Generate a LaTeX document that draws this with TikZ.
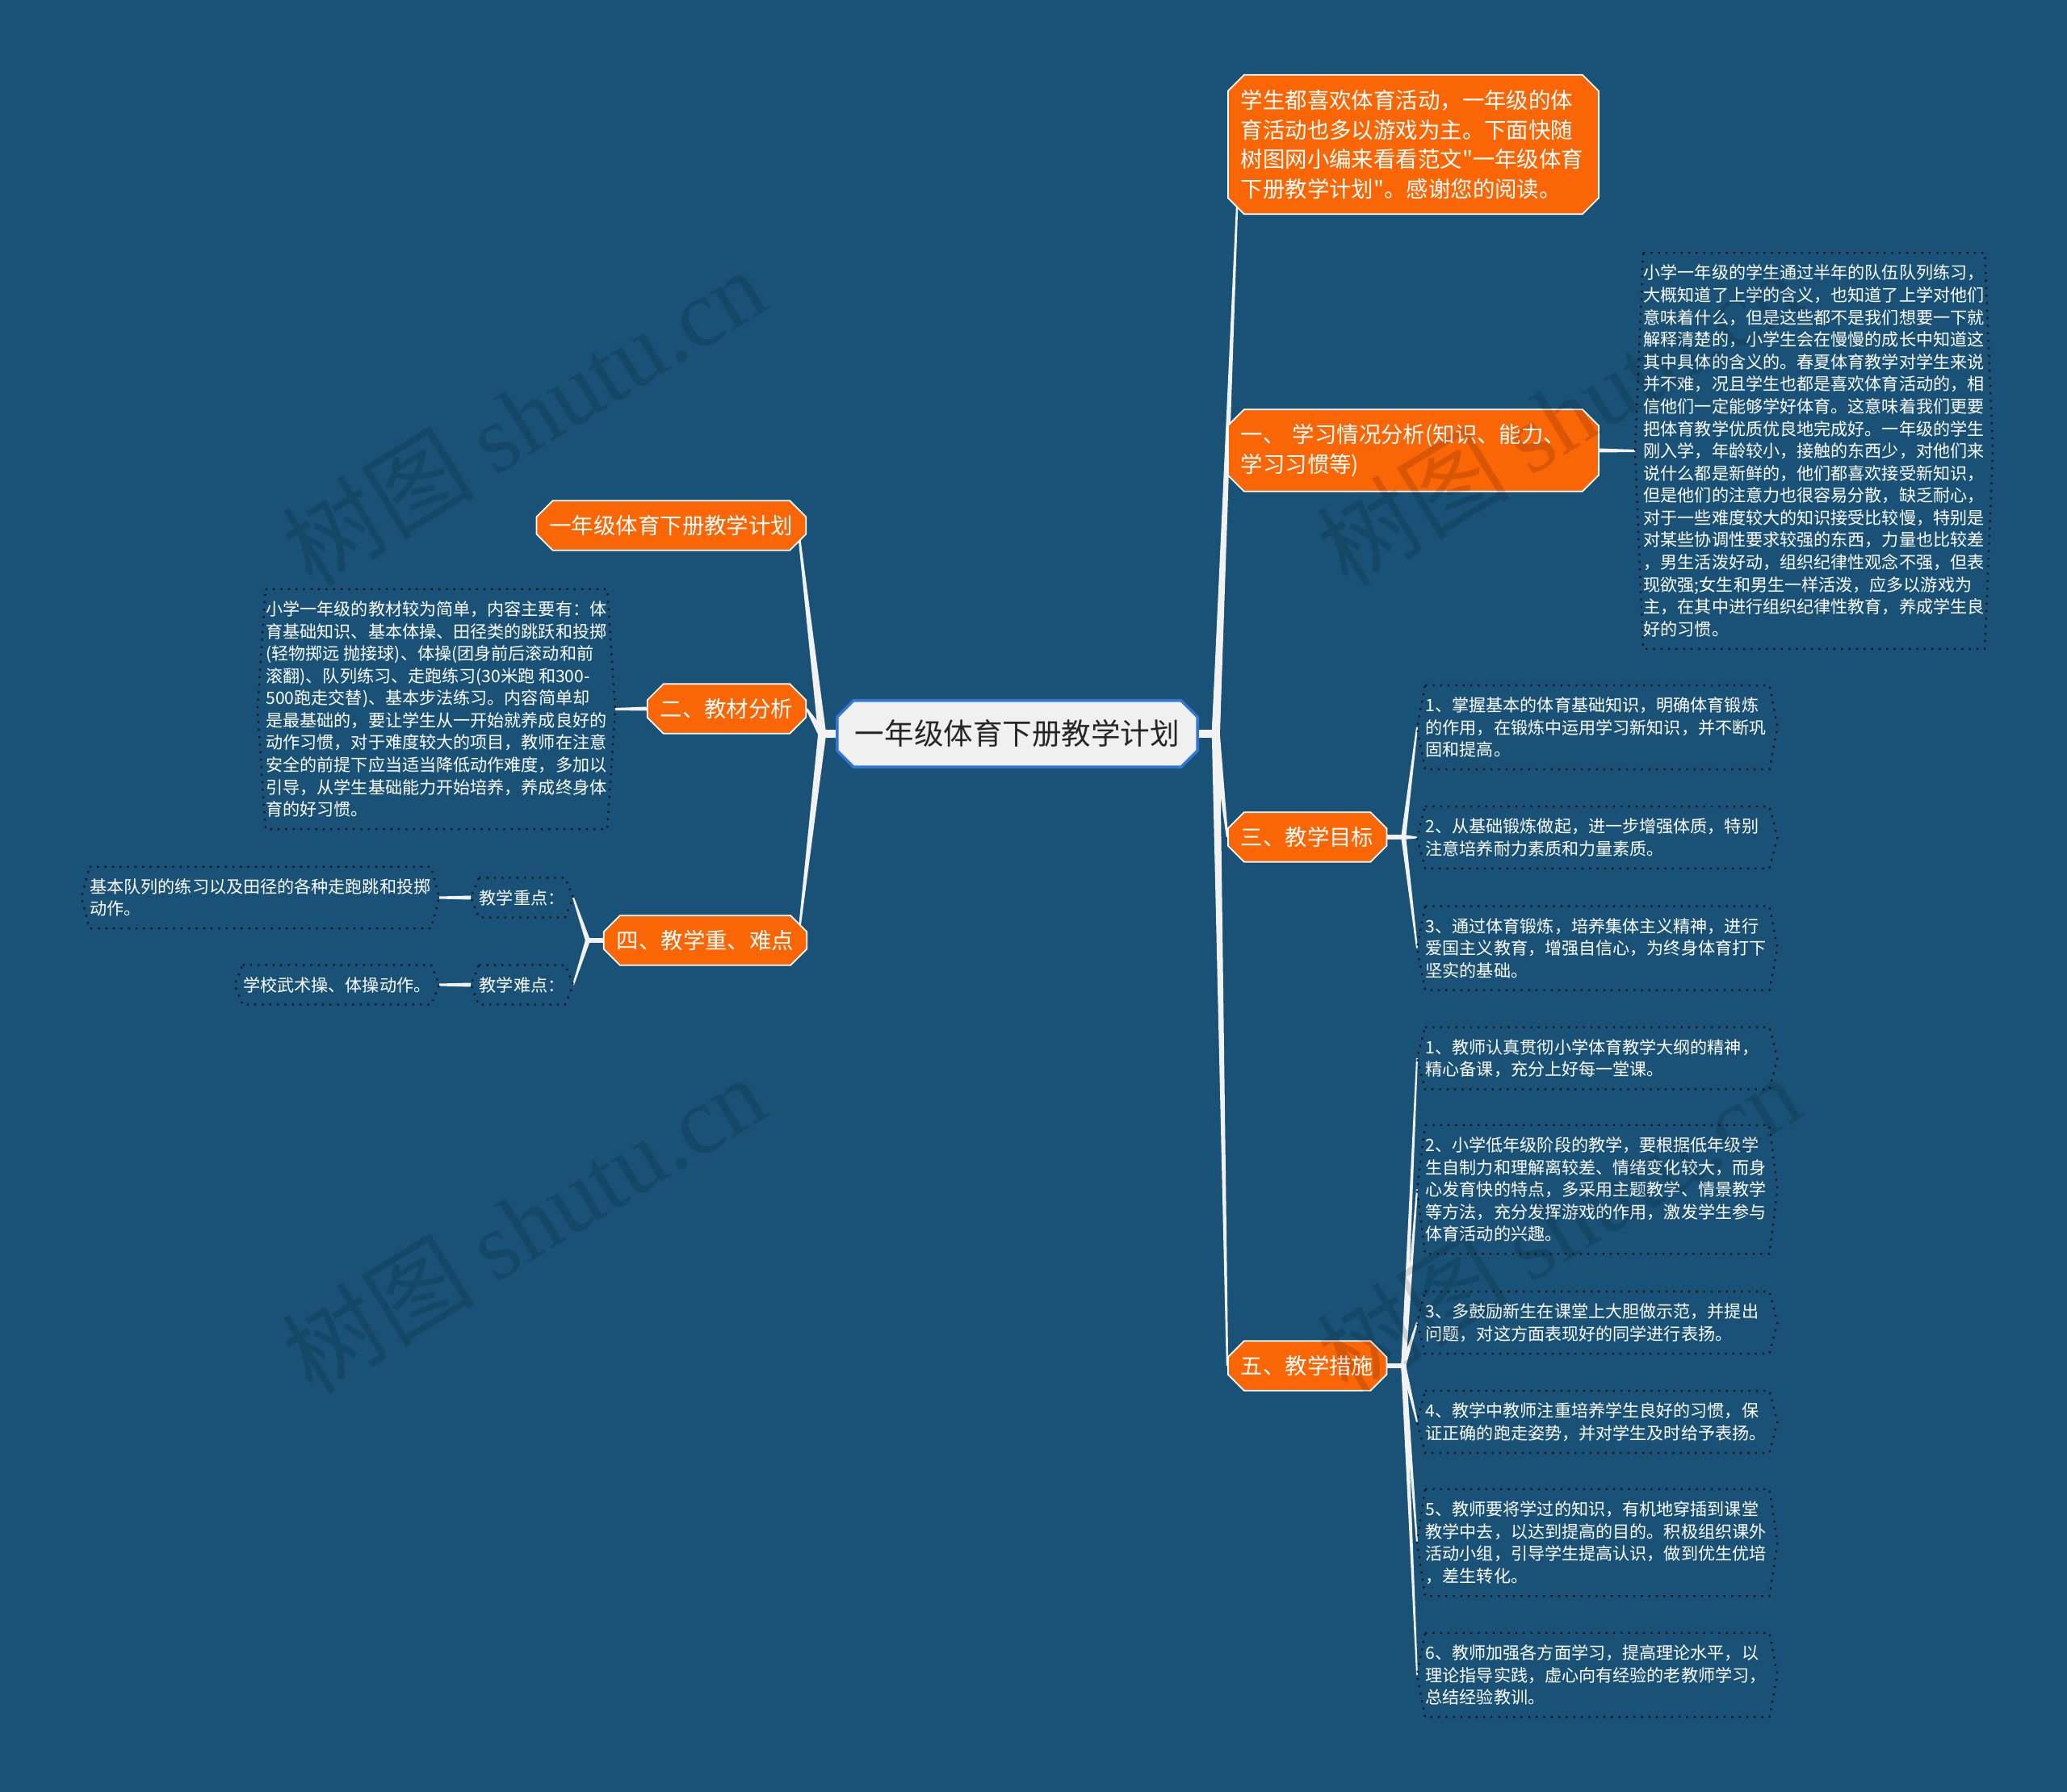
\documentclass[tikz,border=0pt]{standalone}
\usepackage{fontspec}
\newfontfamily\cjk{Noto Sans CJK SC}
\newfontfamily\wmserif{Liberation Serif}
\usetikzlibrary{calc,shapes.misc}
\definecolor{bgblue}{RGB}{25,82,118}
\definecolor{branchorange}{RGB}{250,101,5}
\definecolor{rootgrey}{RGB}{240,240,240}
\definecolor{rootblue}{RGB}{50,120,210}
\definecolor{leafline}{RGB}{10,20,30}
\definecolor{linkwhite}{RGB}{242,242,242}
\pgfdeclarelayer{paper}
\pgfdeclarelayer{links}
\pgfsetlayers{paper,links,main}
% tapered connector: from, to, start half width, end half width
\newcommand{\twig}[4]{%
  \fill[linkwhite] ($(#1)!#3!90:(#2)$) -- ($(#2)!#4!-90:(#1)$)
    -- ($(#2)!#4!90:(#1)$) -- ($(#1)!#3!-90:(#2)$) -- cycle;}

\begin{document}
\begin{tikzpicture}[
    rootbox/.style={chamfered rectangle, chamfered rectangle xsep=0.1cm,
      chamfered rectangle ysep=0.1cm, fill=rootgrey, draw=rootblue,
      line width=1pt, text=black!85, inner xsep=0.12cm, inner ysep=0.14cm,
      font=\cjk\fontsize{10.4pt}{12pt}\selectfont},
    branch/.style={chamfered rectangle, chamfered rectangle xsep=0.1cm,
      chamfered rectangle ysep=0.1cm, fill=branchorange, draw=white,
      line width=0.5pt, text=white, inner xsep=0.06cm, inner ysep=0.08cm,
      align=left, font=\cjk\fontsize{7.8pt}{10.5pt}\selectfont},
    leaf/.style={inner xsep=0.1cm, inner ysep=0.14cm, text=white, align=left,
      font=\cjk\fontsize{6pt}{7.85pt}\selectfont},
    wideleaf/.style={leaf, text width=4.25cm},
    leafedge/.style={draw=leafline, dotted, line width=0.65pt},
    watermark/.style={rotate=31.5, text=black, opacity=0.13,
      font=\cjk\fontsize{34pt}{36pt}\selectfont}
  ]
  \begin{pgfonlayer}{paper}
    \fill[bgblue] (0,0) rectangle (25.6,-22.2);
  \end{pgfonlayer}
  \useasboundingbox (0,0) rectangle (25.6,-22.2);

  % centre
  \node[rootbox] (root) at (12.60,-9.09) {一年级体育下册教学计划};

  % right side
  \node[branch, text width=4.27cm, anchor=west] (intro) at (15.20,-1.79)
    {学生都喜欢体育活动，一年级的体\\育活动也多以游戏为主。下面快随\\树图网小编来看看范文"一年级体育\\下册教学计划"。感谢您的阅读。};
  \node[branch, text width=4.27cm, anchor=west] (sec1) at (15.20,-5.58)
    {一、 学习情况分析(知识、能力、\\学习习惯等)};
  \node[leaf, anchor=west] (sec1d) at (20.25,-5.585)
    {小学一年级的学生通过半年的队伍队列练习，\\大概知道了上学的含义，也知道了上学对他们\\意味着什么，但是这些都不是我们想要一下就\\解释清楚的，小学生会在慢慢的成长中知道这\\其中具体的含义的。春夏体育教学对学生来说\\并不难，况且学生也都是喜欢体育活动的，相\\信他们一定能够学好体育。这意味着我们更要\\把体育教学优质优良地完成好。一年级的学生\\刚入学，年龄较小，接触的东西少，对他们来\\说什么都是新鲜的，他们都喜欢接受新知识，\\但是他们的注意力也很容易分散，缺乏耐心，\\对于一些难度较大的知识接受比较慢，特别是\\对某些协调性要求较强的东西，力量也比较差\\，男生活泼好动，组织纪律性观念不强，但表\\现欲强;女生和男生一样活泼，应多以游戏为\\主，在其中进行组织纪律性教育，养成学生良\\好的习惯。};
  \node[branch, anchor=west] (sec3) at (15.20,-10.37) {三、教学目标};
  \node[wideleaf, anchor=west] (goal1) at (17.55,-9.01)
    {1、掌握基本的体育基础知识，明确体育锻炼\\的作用，在锻炼中运用学习新知识，并不断巩\\固和提高。};
  \node[wideleaf, anchor=west] (goal2) at (17.55,-10.375)
    {2、从基础锻炼做起，进一步增强体质，特别\\注意培养耐力素质和力量素质。};
  \node[wideleaf, anchor=west] (goal3) at (17.55,-11.745)
    {3、通过体育锻炼，培养集体主义精神，进行\\爱国主义教育，增强自信心，为终身体育打下\\坚实的基础。};
  \node[branch, anchor=west] (sec5) at (15.20,-16.92) {五、教学措施};
  \node[wideleaf, anchor=west] (step1) at (17.55,-13.11)
    {1、教师认真贯彻小学体育教学大纲的精神，\\精心备课，充分上好每一堂课。};
  \node[wideleaf, anchor=west] (step2) at (17.55,-14.735)
    {2、小学低年级阶段的教学，要根据低年级学\\生自制力和理解离较差、情绪变化较大，而身\\心发育快的特点，多采用主题教学、情景教学\\等方法，充分发挥游戏的作用，激发学生参与\\体育活动的兴趣。};
  \node[wideleaf, anchor=west] (step3) at (17.55,-16.385)
    {3、多鼓励新生在课堂上大胆做示范，并提出\\问题，对这方面表现好的同学进行表扬。};
  \node[wideleaf, anchor=west] (step4) at (17.55,-17.615)
    {4、教学中教师注重培养学生良好的习惯，保\\证正确的跑走姿势，并对学生及时给予表扬。};
  \node[wideleaf, anchor=west] (step5) at (17.55,-19.11)
    {5、教师要将学过的知识，有机地穿插到课堂\\教学中去，以达到提高的目的。积极组织课外\\活动小组，引导学生提高认识，做到优生优培\\，差生转化。};
  \node[wideleaf, anchor=west] (step6) at (17.55,-20.75)
    {6、教师加强各方面学习，提高理论水平，以\\理论指导实践，虚心向有经验的老教师学习，\\总结经验教训。};

  % left side
  \node[branch, anchor=east] (title) at (9.99,-6.51) {一年级体育下册教学计划};
  \node[branch, anchor=east] (sec2) at (9.99,-8.78) {二、教材分析};
  \node[leaf, anchor=east] (sec2d) at (7.62,-8.785)
    {小学一年级的教材较为简单，内容主要有：体\\育基础知识、基本体操、田径类的跳跃和投掷\\(轻物掷远 抛接球)、体操(团身前后滚动和前\\滚翻)、队列练习、走跑练习(30米跑 和300-\\500跑走交替)、基本步法练习。内容简单却\\是最基础的，要让学生从一开始就养成良好的\\动作习惯，对于难度较大的项目，教师在注意\\安全的前提下应当适当降低动作难度，多加以\\引导，从学生基础能力开始培养，养成终身体\\育的好习惯。};
  \node[branch, anchor=east] (sec4) at (10.00,-11.65) {四、教学重、难点};
  \node[leaf, anchor=east] (key) at (7.10,-11.12) {教学重点：};
  \node[leaf, anchor=east] (hard) at (7.10,-12.20) {教学难点：};
  \node[leaf, anchor=east] (keyd) at (5.44,-11.12)
    {基本队列的练习以及田径的各种走跑跳和投掷\\动作。};
  \node[leaf, anchor=east] (hardd) at (5.44,-12.20) {学校武术操、体操动作。};

  % dotted outlines with pointed sides
  \foreach \n in {sec1d,sec2d,key,hard,keyd,hardd,goal1,goal2,goal3,step1,step2,step3,step4,step5,step6}
    \draw[leafedge] ([xshift=0.1cm]\n.north west) -- ([xshift=-0.1cm]\n.north east)
      -- (\n.east) -- ([xshift=-0.1cm]\n.south east)
      -- ([xshift=0.1cm]\n.south west) -- (\n.west) -- cycle;

  % hubs
  \coordinate (rhub) at ($(root.east)+(0.21,0)$);
  \coordinate (lhub) at ($(root.west)+(-0.17,0)$);
  \coordinate (s3hub) at ($(sec3.east)+(0.2,0)$);
  \coordinate (s5hub) at ($(sec5.east)+(0.2,0)$);
  \coordinate (s4hub) at ($(sec4.west)+(-0.19,0)$);
  \coordinate (introin) at ($(intro.south west)+(0.02,0.05)$);
  \coordinate (titlein) at ($(title.south east)+(0,0.16)$);
  \coordinate (sec4in) at ($(sec4.north east)+(0,-0.1)$);

  \begin{pgfonlayer}{links}
    \twig{root.east}{rhub}{0.05cm}{0.05cm}
    \twig{root.west}{lhub}{0.05cm}{0.05cm}
    \foreach \t in {introin,sec1.west,sec3.west,sec5.west}
      {\twig{rhub}{\t}{0.05cm}{0.012cm}}
    \foreach \t in {titlein,sec2.east,sec4in}
      {\twig{lhub}{\t}{0.05cm}{0.012cm}}
    \twig{sec3.east}{s3hub}{0.03cm}{0.03cm}
    \twig{sec5.east}{s5hub}{0.03cm}{0.03cm}
    \twig{sec4.west}{s4hub}{0.03cm}{0.03cm}
    \foreach \t in {goal1,goal2,goal3}
      {\twig{s3hub}{\t.west}{0.03cm}{0.01cm}}
    \foreach \t in {step1,step2,step3,step4,step5,step6}
      {\twig{s5hub}{\t.west}{0.03cm}{0.01cm}}
    \foreach \t in {key,hard}
      {\twig{s4hub}{\t.east}{0.03cm}{0.01cm}}
    \twig{sec1.east}{sec1d.west}{0.025cm}{0.015cm}
    \twig{sec2.west}{sec2d.east}{0.025cm}{0.015cm}
    \twig{key.west}{keyd.east}{0.025cm}{0.015cm}
    \twig{hard.west}{hardd.east}{0.025cm}{0.015cm}
  \end{pgfonlayer}

  % watermarks
  \foreach \p in {(6.48,-5.16),(6.48,-15.16),(19.30,-5.16),(19.30,-15.16)}
    \node[watermark] at \p {树图 {\wmserif shutu.cn}};
\end{tikzpicture}
\end{document}
